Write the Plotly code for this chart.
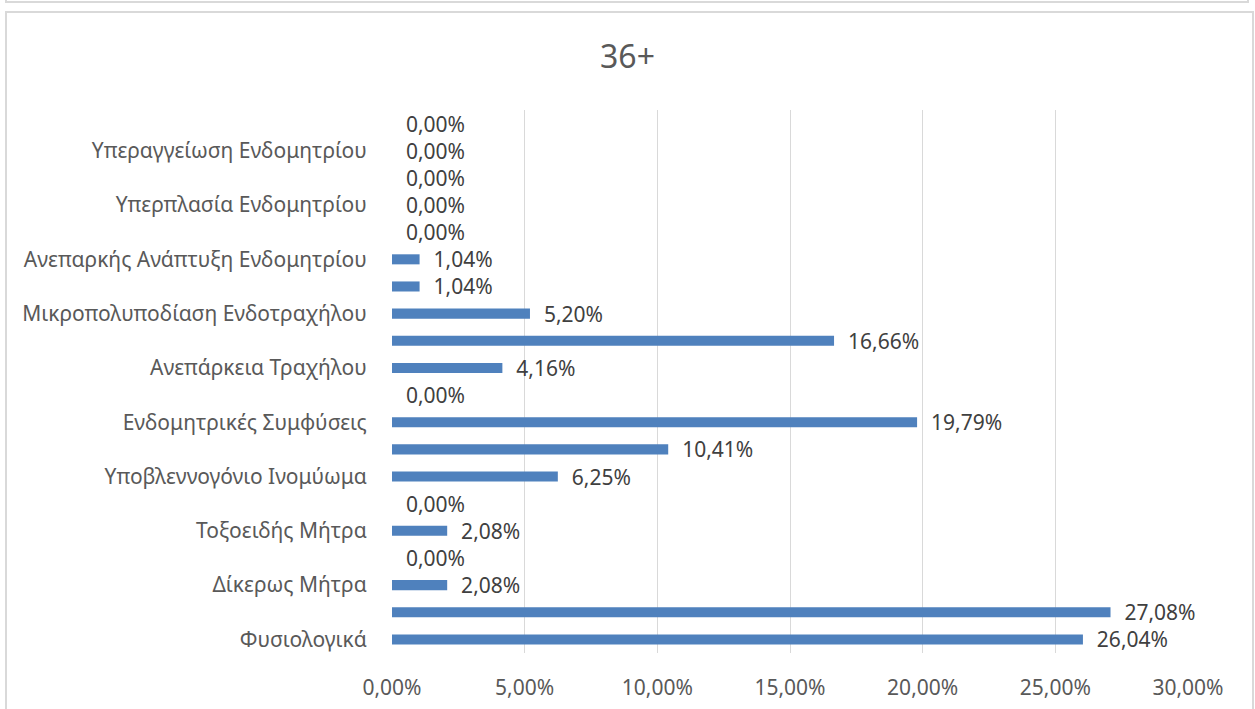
import plotly.graph_objects as go

# ---- data ----
tick_labels = ["Φυσιολογικά", "Δίκερως Μήτρα", "Τοξοειδής Μήτρα", "Υποβλεννογόνιο Ινομύωμα",
               "Ενδομητρικές Συμφύσεις", "Ανεπάρκεια Τραχήλου", "Μικροπολυποδίαση Ενδοτραχήλου",
               "Ανεπαρκής Ανάπτυξη Ενδομητρίου", "Υπερπλασία Ενδομητρίου", "Υπεραγγείωση Ενδομητρίου"]
values = [26.04, 27.08, 2.08, 0.00, 2.08, 0.00, 6.25, 10.41, 19.79, 0.00,
          4.16, 16.66, 5.20, 1.04, 1.04, 0.00, 0.00, 0.00, 0.00, 0.00]
x_ticks = [0, 5, 10, 15, 20, 25, 30]
title_text = "36+"

positions = list(range(len(values)))
label_pos = positions[::2]
texts = ["\u00a0\u00a0" + f"{v:.2f}".replace(".", ",") + "%" for v in values]

W, H = 1255, 709
ML, MR, MT, MB = 392, 67, 110, 56
PW, PH = W - ML - MR, H - MT - MB

def px_x(p):
    return (p - ML) / PW

def px_y(p):
    return (H - MB - p) / PH

FONT = "Noto Sans"
FS = 21

fig = go.Figure(go.Bar(
    x=values, y=positions, orientation="h",
    marker=dict(color="#4F81BD", line=dict(width=0)),
    text=texts, textposition="outside", cliponaxis=False, constraintext="none",
    textfont=dict(family=FONT, size=FS, color="#404040"),
))

fig.update_layout(
    width=W, height=H,
    margin=dict(l=ML, r=MR, t=MT, b=MB, autoexpand=False),
    paper_bgcolor="white", plot_bgcolor="white",
    bargap=0.63,
    showlegend=False,
    title=dict(text=title_text, x=0.5, xanchor="center", y=1 - 57 / H, yanchor="middle",
               font=dict(family=FONT, size=32, color="#595959")),
    xaxis=dict(range=[0, 30], tickvals=x_ticks,
               ticktext=[f"{t:.2f}".replace(".", ",") + "%" for t in x_ticks],
               showgrid=True, gridcolor="#D9D9D9", gridwidth=1.3,
               zeroline=False, showline=False,
               ticks="outside", ticklen=16, tickcolor="rgba(0,0,0,0)",
               tickfont=dict(family=FONT, size=FS, color="#595959")),
    yaxis=dict(range=[-0.5, len(values) - 0.5], tickvals=label_pos, ticktext=tick_labels,
               showgrid=False, zeroline=False, showline=False,
               ticks="outside", ticklen=20, tickcolor="rgba(0,0,0,0)",
               tickfont=dict(family=FONT, size=FS, color="#595959")),
)

# chart frame (decorative)
frame = dict(type="rect", xref="paper", yref="paper", line=dict(color="#D9D9D9", width=2),
             fillcolor="rgba(0,0,0,0)", layer="below")
fig.add_shape(**frame, x0=px_x(6), x1=px_x(1253), y0=px_y(720), y1=px_y(12))
fig.add_shape(**frame, x0=px_x(6), x1=px_x(1248), y0=px_y(2), y1=px_y(-40))

fig.write_html("out.html")
